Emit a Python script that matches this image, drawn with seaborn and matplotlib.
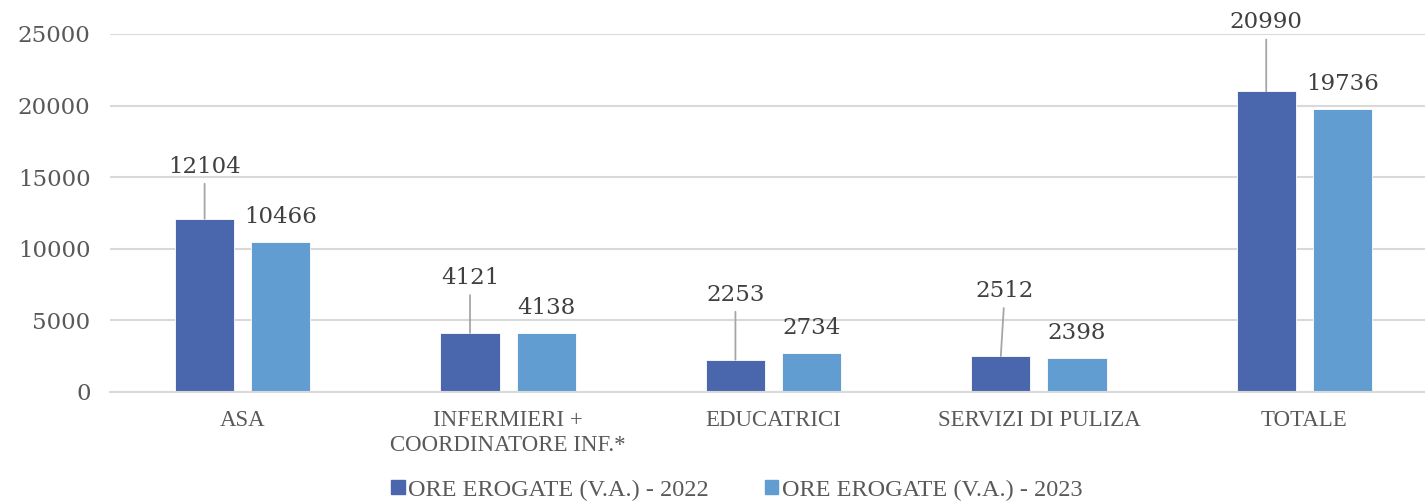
import pandas as pd
import matplotlib.pyplot as plt
import seaborn as sns

categories = ["ASA", "INFERMIERI +\nCOORDINATORE INF.*", "EDUCATRICI", "SERVIZI DI PULIZA", "TOTALE"]
series_names = ["ORE EROGATE (V.A.) - 2022", "ORE EROGATE (V.A.) - 2023"]
ore_2022 = [12104, 4121, 2253, 2512, 20990]
ore_2023 = [10466, 4138, 2734, 2398, 19736]
y_ticks = [0, 5000, 10000, 15000, 20000, 25000]

colors = ["#4a66ac", "#629dd1"]

df = pd.DataFrame({
    "cat": categories * 2,
    "serie": [series_names[0]] * len(categories) + [series_names[1]] * len(categories),
    "ore": ore_2022 + ore_2023,
})

sns.set_style("white")
plt.rcParams['font.family'] = ['DejaVu Serif']

fig = plt.figure(figsize=(14.25, 5.01), dpi=100)
ax = fig.add_axes([110 / 1425, 109 / 501, 1327 / 1425, 358 / 501])

sns.barplot(data=df, x="cat", y="ore", hue="serie", palette=colors, saturation=1,
            width=0.574, gap=0.224, edgecolor="#ffffff", linewidth=0.6, ax=ax, legend=True)

ax.set_xlim(-0.5, 4.5)
ax.set_ylim(0, 25000)
ax.set_yticks(y_ticks)
ax.set_yticklabels([str(t) for t in y_ticks], fontsize=16.5, color="#595959")
ax.grid(axis="y", color="#d9d9d9", lw=1.5)
ax.set_axisbelow(True)
for s in ["left", "right", "top"]:
    ax.spines[s].set_visible(False)
ax.spines["bottom"].set_color("#d9d9d9")
ax.spines["bottom"].set_linewidth(1.5)
ax.tick_params(axis="both", length=0)
ax.tick_params(axis="y", pad=14)
ax.tick_params(axis="x", pad=13)
ax.set_xlabel("")
ax.set_ylabel("")
for lab in ax.get_xticklabels():
    lab.set_fontfamily("Liberation Serif")
    lab.set_fontsize(16.5)
    lab.set_color("#595959")
    lab.set_linespacing(1.25)

# 2022 labels were dragged up in the original, with leader lines
lift_px = [52, 55, 65, 65, 69]
shift_px = [0, 0, 0, 4, 0]
for bar, v, up, dx in zip(ax.containers[0], ore_2022, lift_px, shift_px):
    x = bar.get_x() + bar.get_width() / 2
    ax.annotate(str(v), xy=(x, bar.get_height()), xytext=(dx * 0.72, up * 0.72),
                textcoords="offset points", ha="center", va="center",
                fontsize=16.5, color="#404040", annotation_clip=False,
                arrowprops=dict(arrowstyle="-", color="#a6a6a6", lw=1.3, shrinkA=2, shrinkB=0))
for bar, v in zip(ax.containers[1], ore_2023):
    x = bar.get_x() + bar.get_width() / 2
    ax.annotate(str(v), xy=(x, bar.get_height()), xytext=(0, 25 * 0.72),
                textcoords="offset points", ha="center", va="center",
                fontsize=16.5, color="#404040", annotation_clip=False)

ax.legend_.remove()
handles = [plt.Rectangle((0, 0), 1, 1, color=c) for c in colors]
leg = fig.legend(handles, series_names, loc="center", bbox_to_anchor=(737 / 1425, 1 - 490 / 501),
                 ncol=2, frameon=False, handlelength=0.55, handleheight=0.55, handletextpad=0.15,
                 columnspacing=2.3, prop={"family": "Liberation Serif", "size": 17.5})
for t in leg.get_texts():
    t.set_color("#595959")

fig.savefig("out.png", dpi=100)
